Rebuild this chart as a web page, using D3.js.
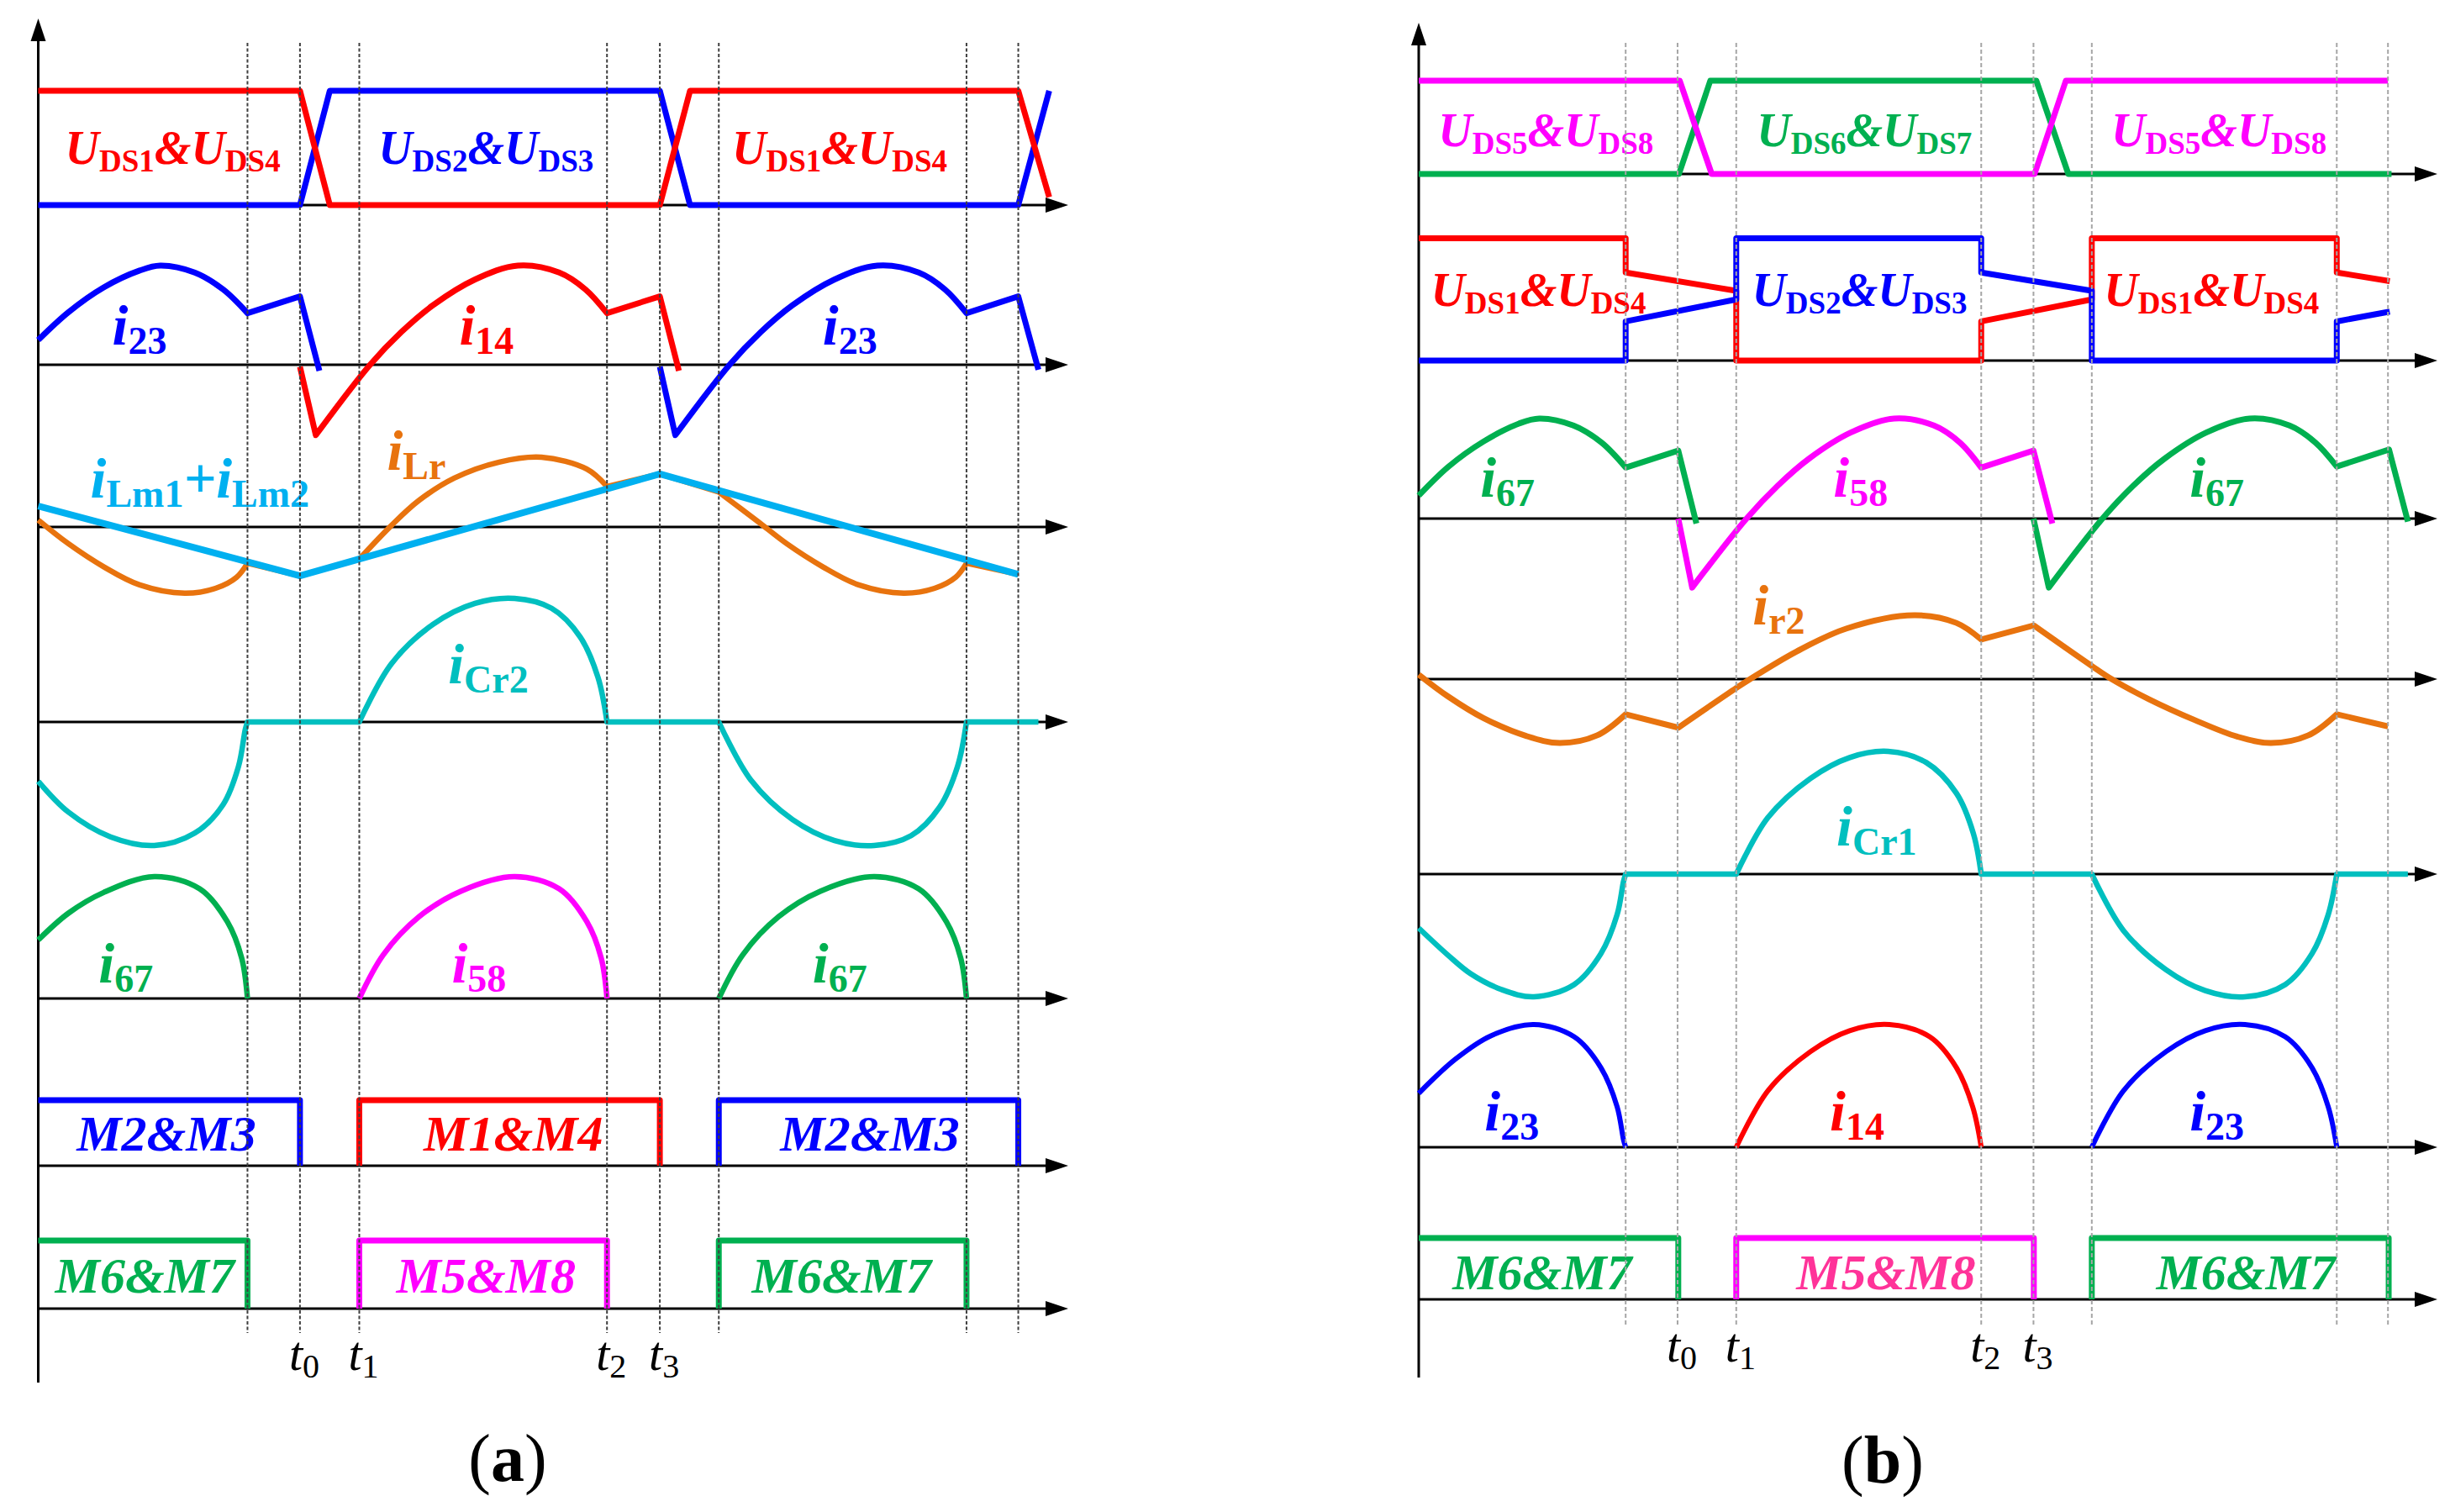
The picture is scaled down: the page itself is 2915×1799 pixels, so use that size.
<!DOCTYPE html>
<html><head><meta charset="utf-8">
<script src="https://cdn.jsdelivr.net/npm/d3@7"></script>
<style>html,body{margin:0;padding:0;background:#fff}svg{display:block}</style>
</head><body>
<svg id="chart" width="2915" height="1799"></svg>
<script>
// ================= DATA =================
// time axis (half switching period = 1 unit), dashed instants and their names
const tDomain = [-0.582, 2.283];
const markTimes = [0, 0.146, 0.311, 1, 1.147, 1.311, 2, 2.144];
const markNames = ['', 't_{0}', 't_{1}', 't_{2}', 't_{3}', '', '', ''];
const panelNames = ['(a)', '(b)'];

// ---- panel (a) waveforms: pieces of [kind, [[t, value p.u.], ...]]  (C = smooth, L = straight)
const aUds14 = [['L', [[-0.582,1],[0.146,1],[0.229,0],[1.147,0],[1.231,1],[2.144,1],[2.23,0.07]]]];
const aUds23 = [['L', [[-0.582,0],[0.146,0],[0.229,1],[1.147,1],[1.231,0],[2.144,0],[2.23,1]]]];
const aI23 = [
  ['C', [[-0.582,0.25],[-0.498,0.53],[-0.40,0.78],[-0.30,0.95],[-0.243,1.0],[-0.147,0.93],[-0.068,0.76],[0,0.52]]],
  ['L', [[0,0.52],[0.146,0.69],[0.20,-0.06]]],
  ['L', [[1.147,-0.02],[1.19,-0.71]]],
  ['C', [[1.19,-0.71],[1.341,0],[1.428,0.33],[1.516,0.60],[1.633,0.86],[1.752,1.0],[1.867,0.93],[1.94,0.76],[2.0,0.52]]],
  ['L', [[2.0,0.52],[2.144,0.69],[2.2,-0.05]]]
];
const aI14 = [
  ['L', [[0.146,-0.02],[0.19,-0.71]]],
  ['C', [[0.19,-0.71],[0.341,0],[0.428,0.33],[0.516,0.60],[0.633,0.86],[0.752,1.0],[0.867,0.93],[0.94,0.76],[1.0,0.52]]],
  ['L', [[1.0,0.52],[1.147,0.69],[1.2,-0.06]]]
];
const aLm = [['L', [[-0.582,0.30],[0.146,-0.70],[1.147,0.76],[2.144,-0.68]]]];
const aLr = [
  ['C', [[-0.582,0.10],[-0.498,-0.24],[-0.40,-0.57],[-0.30,-0.83],[-0.175,-0.95],[-0.089,-0.88],[-0.03,-0.72],[0,-0.52]]],
  ['L', [[0,-0.52],[0.146,-0.70],[0.311,-0.46]]],
  ['C', [[0.311,-0.46],[0.40,0.02],[0.477,0.38],[0.575,0.70],[0.70,0.93],[0.818,1.0],[0.944,0.83],[1.0,0.58]]],
  ['L', [[1.0,0.58],[1.147,0.76],[1.311,0.50]]],
  ['C', [[1.311,0.50],[1.417,0.09],[1.50,-0.24],[1.60,-0.57],[1.70,-0.83],[1.825,-0.95],[1.911,-0.88],[1.97,-0.72],[2.0,-0.52]]],
  ['L', [[2.0,-0.52],[2.144,-0.68]]]
];
const aCr2 = [
  ['C', [[-0.582,-0.48],[-0.498,-0.73],[-0.381,-0.93],[-0.259,-1.0],[-0.147,-0.90],[-0.068,-0.67],[-0.025,-0.36],[-0.006,-0.06],[0,0]]],
  ['L', [[0,0],[0.311,0]]],
  ['C', [[0.311,0],[0.40,0.47],[0.516,0.79],[0.633,0.96],[0.743,1.0],[0.846,0.92],[0.925,0.69],[0.975,0.36],[1.0,0]]],
  ['L', [[1.0,0],[1.311,0]]],
  ['C', [[1.311,0],[1.40,-0.47],[1.516,-0.79],[1.633,-0.96],[1.743,-1.0],[1.846,-0.92],[1.925,-0.69],[1.975,-0.36],[2.0,0]]],
  ['L', [[2.0,0],[2.2,0]]]
];
const aI67 = [
  ['C', [[-0.582,0.48],[-0.498,0.70],[-0.40,0.87],[-0.259,1.0],[-0.133,0.90],[-0.056,0.63],[-0.016,0.33],[0,0]]],
  ['C', [[1.311,0],[1.378,0.36],[1.477,0.67],[1.593,0.88],[1.743,1.0],[1.867,0.90],[1.944,0.63],[1.984,0.33],[2.0,0]]]
];
const aI58 = [['C', [[0.311,0],[0.378,0.36],[0.477,0.67],[0.593,0.88],[0.743,1.0],[0.867,0.90],[0.944,0.63],[0.984,0.33],[1.0,0]]]];
const aM23 = [['L', [[-0.582,1],[0.146,1],[0.146,0]]], ['L', [[1.311,0],[1.311,1],[2.144,1],[2.144,0]]]];
const aM14 = [['L', [[0.311,0],[0.311,1],[1.147,1],[1.147,0]]]];
const aM67 = [['L', [[-0.582,1],[0,1],[0,0]]], ['L', [[1.311,0],[1.311,1],[2,1],[2,0]]]];
const aM58 = [['L', [[0.311,0],[0.311,1],[1,1],[1,0]]]];

// ---- panel (b) waveforms
const bUds58 = [['L', [[-0.582,1],[0.152,1],[0.242,0],[1.15,0],[1.238,1],[2.144,1]]]];
const bUds67 = [['L', [[-0.582,0],[0.15,0],[0.238,1],[1.155,1],[1.245,0],[2.154,0]]]];
const bUds14 = [['L', [[-0.582,1],[0,1],[0,0.72],[0.311,0.57],[0.311,0],[1,0],[1,0.32],[1.311,0.50],[1.311,1],[2,1],[2,0.72],[2.149,0.65]]]];
const bUds23 = [['L', [[-0.582,0],[0,0],[0,0.32],[0.311,0.50],[0.311,1],[1,1],[1,0.72],[1.311,0.57],[1.311,0],[2,0],[2,0.32],[2.149,0.40]]]];
const bI67 = [
  ['C', [[-0.582,0.23],[-0.498,0.52],[-0.40,0.77],[-0.30,0.95],[-0.243,1.0],[-0.147,0.93],[-0.068,0.76],[0,0.51]]],
  ['L', [[0,0.51],[0.148,0.68],[0.199,-0.05]]],
  ['L', [[1.147,0],[1.19,-0.69]]],
  ['C', [[1.19,-0.69],[1.341,0],[1.428,0.33],[1.516,0.60],[1.633,0.86],[1.755,1.0],[1.867,0.93],[1.94,0.76],[2.0,0.52]]],
  ['L', [[2.0,0.52],[2.147,0.69],[2.2,-0.03]]]
];
const bI58 = [
  ['L', [[0.148,0],[0.187,-0.69]]],
  ['C', [[0.187,-0.69],[0.34,0],[0.428,0.33],[0.516,0.60],[0.633,0.86],[0.755,1.0],[0.867,0.93],[0.94,0.76],[1.0,0.51]]],
  ['L', [[1.0,0.51],[1.147,0.68],[1.2,-0.05]]]
];
const bIr2 = [
  ['C', [[-0.582,0.07],[-0.50,-0.27],[-0.40,-0.61],[-0.28,-0.89],[-0.185,-1.0],[-0.08,-0.88],[0,-0.55]]],
  ['L', [[0,-0.55],[0.148,-0.76]]],
  ['C', [[0.148,-0.76],[0.311,-0.14],[0.35,0],[0.48,0.43],[0.62,0.79],[0.812,1.0],[0.93,0.88],[1.0,0.62]]],
  ['L', [[1.0,0.62],[1.148,0.84]]],
  ['C', [[1.148,0.84],[1.31,0.21],[1.367,0],[1.47,-0.31],[1.60,-0.64],[1.72,-0.90],[1.815,-1.0],[1.92,-0.88],[2.0,-0.55]]],
  ['L', [[2.0,-0.55],[2.144,-0.74]]]
];
const bCr1 = [
  ['C', [[-0.582,-0.44],[-0.50,-0.66],[-0.437,-0.81],[-0.35,-0.94],[-0.258,-1.0],[-0.145,-0.90],[-0.07,-0.65],[-0.024,-0.33],[-0.006,-0.06],[0,0]]],
  ['L', [[0,0],[0.311,0]]],
  ['C', [[0.311,0],[0.40,0.46],[0.52,0.78],[0.63,0.95],[0.738,1.0],[0.845,0.91],[0.93,0.66],[0.978,0.33],[1.0,0]]],
  ['L', [[1,0],[1.311,0]]],
  ['C', [[1.311,0],[1.40,-0.46],[1.52,-0.78],[1.63,-0.95],[1.742,-1.0],[1.855,-0.90],[1.93,-0.65],[1.976,-0.33],[2.0,0]]],
  ['L', [[2,0],[2.2,0]]]
];
const bI23 = [
  ['C', [[-0.582,0.44],[-0.478,0.72],[-0.378,0.91],[-0.258,1.0],[-0.145,0.90],[-0.07,0.65],[-0.024,0.33],[-0.006,0.06],[0,0]]],
  ['C', [[1.311,0],[1.40,0.46],[1.52,0.78],[1.63,0.95],[1.742,1.0],[1.855,0.90],[1.93,0.65],[1.976,0.33],[2.0,0]]]
];
const bI14 = [['C', [[0.311,0],[0.40,0.46],[0.52,0.78],[0.63,0.95],[0.742,1.0],[0.855,0.90],[0.93,0.65],[0.976,0.33],[1.0,0]]]];
const bM67 = [['L', [[-0.582,1],[0.148,1],[0.148,0]]], ['L', [[1.311,0],[1.311,1],[2.146,1],[2.146,0]]]];
const bM58 = [['L', [[0.311,0],[0.311,1],[1.148,1],[1.148,0]]]];

// ---- label texts (markup: _{...} = subscript)
const aLabelTexts = ['U_{DS1}&U_{DS4}','U_{DS2}&U_{DS3}','U_{DS1}&U_{DS4}','i_{23}','i_{14}','i_{23}',
  'i_{Lm1}+i_{Lm2}','i_{Lr}','i_{Cr2}','i_{67}','i_{58}','i_{67}','M2&M3','M1&M4','M2&M3','M6&M7','M5&M8','M6&M7'];
const bLabelTexts = ['U_{DS5}&U_{DS8}','U_{DS6}&U_{DS7}','U_{DS5}&U_{DS8}','U_{DS1}&U_{DS4}','U_{DS2}&U_{DS3}','U_{DS1}&U_{DS4}',
  'i_{67}','i_{58}','i_{67}','i_{r2}','i_{Cr1}','i_{23}','i_{14}','i_{23}','M6&M7','M5&M8','M6&M7'];

// ================= LAYOUT & STYLE =================
const C = {red:'#FF0000', blue:'#0000FF', mag:'#FF00FF', green:'#00B050', orange:'#E8730E',
           lblue:'#00B0F0', teal:'#00BFBF', pink:'#FF3399'};
const FONT = "'Liberation Serif','Times New Roman',Times,serif";
const panels = [
  {x0:45.5, x1:1271, yTop:22, yBot:1645, dashTop:51, dashBot:1586, dashColor:'#404040', dashArr:'4,2.5',
   tY:1630, tOff:-13, nameX:604, nameY:1762,
   strips:[[244,136],[434,118],[627,83],[859,147],[1188,145],[1387,78],[1557,81]]},
  {x0:1688, x1:2900, yTop:27, yBot:1639, dashTop:51, dashBot:1576, dashColor:'#A6A6A6', dashArr:'5,3',
   tY:1620, tOff:-13, nameX:2240, nameY:1764,
   strips:[[207,111],[429,145.5],[617,119],[808,76],[1040,146],[1365,146],[1546,73]]}
];
const series = [
  [0,0,aUds23,C.blue,7],[0,0,aUds14,C.red,7],
  [0,1,aI23,C.blue,7],[0,1,aI14,C.red,7],
  [0,2,aLr,C.orange,6.5],[0,2,aLm,C.lblue,8],
  [0,3,aCr2,C.teal,6.5],
  [0,4,aI67,C.green,6.5],[0,4,aI58,C.mag,6.5],
  [0,5,aM23,C.blue,7],[0,5,aM14,C.red,7],
  [0,6,aM67,C.green,7],[0,6,aM58,C.mag,7],
  [1,0,bUds67,C.green,7],[1,0,bUds58,C.mag,7],
  [1,1,bUds14,C.red,7],[1,1,bUds23,C.blue,7],
  [1,2,bI67,C.green,7],[1,2,bI58,C.mag,7],
  [1,3,bIr2,C.orange,7],
  [1,4,bCr1,C.teal,6.5],
  [1,5,bI23,C.blue,6],[1,5,bI14,C.red,6],
  [1,6,bM67,C.green,7],[1,6,bM58,C.mag,7]
];
// label placement: [strip, t, value, kind, color]
const aLabelPos = [
  [0,-0.507,0.36,'uds',C.red],[0,0.364,0.36,'uds',C.blue],[0,1.348,0.36,'uds',C.red],
  [1,-0.376,0.20,'cur',C.blue],[1,0.589,0.20,'cur',C.red],[1,1.60,0.20,'cur',C.blue],
  [2,-0.437,0.42,'cur',C.lblue],[2,0.388,0.82,'cur',C.orange],
  [3,0.558,0.31,'cur',C.teal],
  [4,-0.414,0.13,'cur',C.green],[4,0.568,0.13,'cur',C.mag],[4,1.572,0.13,'cur',C.green],
  [5,-0.475,0.23,'gate',C.blue],[5,0.49,0.23,'gate',C.red],[5,1.482,0.23,'gate',C.blue],
  [6,-0.535,0.235,'gate',C.green],[6,0.414,0.235,'gate',C.mag],[6,1.403,0.235,'gate',C.green]
];
const bLabelPos = [
  [0,-0.527,0.30,'uds',C.mag],[0,0.369,0.30,'uds',C.green],[0,1.366,0.30,'uds',C.mag],
  [1,-0.548,0.45,'uds',C.red],[1,0.355,0.45,'uds',C.blue],[1,1.345,0.45,'uds',C.red],
  [2,-0.409,0.22,'cur',C.green],[2,0.584,0.22,'cur',C.mag],[2,1.586,0.22,'cur',C.green],
  [3,0.357,0.855,'cur',C.orange],
  [4,0.593,0.233,'cur',C.teal],
  [5,-0.397,0.137,'cur',C.blue],[5,0.574,0.137,'cur',C.red],[5,1.586,0.137,'cur',C.blue],
  [6,-0.487,0.164,'gate',C.green],[6,0.48,0.164,'gate',C.pink],[6,1.492,0.164,'gate',C.green]
];
const textStyles = {
  uds:  {main:56, sub:37, dy:9,  weight:'bold',   mainStyle:'italic'},
  cur:  {main:68, sub:46, dy:11, weight:'bold',   mainStyle:'italic'},
  gate: {main:60, sub:40, dy:9,  weight:'bold',   mainStyle:'italic'},
  time: {main:58, sub:40, dy:9,  weight:'normal', mainStyle:'italic'}
};

// ================= DRAW =================
const svg = d3.select('#chart');
svg.append('rect').attr('width',2915).attr('height',1799).attr('fill','#fff');

function richText(g, x, y, str, st, color, anchor) {
  const t = g.append('text').attr('x', x).attr('y', y).attr('fill', color)
    .attr('font-family', FONT).attr('text-anchor', anchor || 'start');
  str.split(/(_\{[^}]*\})/).filter(s => s.length).forEach(tok => {
    const isSub = tok.startsWith('_{');
    t.append('tspan').attr('y', isSub ? y + st.dy : y)
      .attr('font-size', isSub ? st.sub : st.main)
      .attr('font-weight', st.weight)
      .attr('font-style', isSub ? 'normal' : st.mainStyle)
      .text(isSub ? tok.slice(2, -1) : tok);
  });
  return t;
}

const AL = 27, AH = 9;
panels.forEach((P, pi) => {
  const g = svg.append('g');
  const x = d3.scaleLinear().domain(tDomain).range([P.x0, P.x1]);
  P.x = x;
  P.ys = P.strips.map(([base, amp]) => d3.scaleLinear().domain([0, 1]).range([base, base - amp]));

  g.append('line').attr('x1', P.x0).attr('x2', P.x0).attr('y1', P.yBot).attr('y2', P.yTop + AL - 2)
    .attr('stroke', '#000').attr('stroke-width', 3);
  g.append('path').attr('d', d3.line()([[P.x0, P.yTop], [P.x0 - AH, P.yTop + AL], [P.x0 + AH, P.yTop + AL]]) + 'Z')
    .attr('fill', '#000');
  P.ys.forEach(y => {
    const y0 = y(0);
    g.append('line').attr('x1', P.x0).attr('x2', P.x1 - AL + 2).attr('y1', y0).attr('y2', y0)
      .attr('stroke', '#000').attr('stroke-width', 3);
    g.append('path').attr('d', d3.line()([[P.x1, y0], [P.x1 - AL, y0 - AH], [P.x1 - AL, y0 + AH]]) + 'Z')
      .attr('fill', '#000');
  });
  P.g = g;
});

function buildPath(pieces, x, y) {
  let d = '', last = null;
  pieces.forEach(([kind, pts]) => {
    const gen = d3.line().x(p => x(p[0])).y(p => y(p[1]))
      .curve(kind === 'C' ? d3.curveCatmullRom.alpha(0.5) : d3.curveLinear);
    let s = gen(pts);
    const first = pts[0];
    if (last && Math.abs(last[0] - first[0]) < 1e-9 && Math.abs(last[1] - first[1]) < 1e-9) {
      s = 'L' + s.slice(1);
    }
    d += s;
    last = pts[pts.length - 1];
  });
  return d;
}
series.forEach(([pi, si, data, color, w]) => {
  const P = panels[pi];
  P.g.append('path').attr('d', buildPath(data, P.x, P.ys[si]))
    .attr('fill', 'none').attr('stroke', color).attr('stroke-width', w)
    .attr('stroke-linejoin', 'round').attr('stroke-linecap', 'butt');
});

[[0, aLabelTexts, aLabelPos], [1, bLabelTexts, bLabelPos]].forEach(([pi, texts, pos]) => {
  const P = panels[pi];
  texts.forEach((txt, i) => {
    const [si, t, v, kind, color] = pos[i];
    richText(P.g, P.x(t), P.ys[si](v), txt, textStyles[kind], color);
  });
});

panels.forEach((P, pi) => {
  markTimes.forEach((t, i) => {
    P.g.append('line').attr('x1', P.x(t)).attr('x2', P.x(t)).attr('y1', P.dashTop).attr('y2', P.dashBot)
      .attr('stroke', P.dashColor).attr('stroke-width', 2).attr('stroke-dasharray', P.dashArr);
    if (markNames[i]) richText(P.g, P.x(t) + P.tOff, P.tY, markNames[i], textStyles.time, '#000');
  });
  const nm = panelNames[pi];
  const tx = P.g.append('text').attr('x', P.nameX).attr('y', P.nameY).attr('text-anchor', 'middle')
    .attr('font-family', FONT).attr('font-size', 80).attr('fill', '#000');
  tx.append('tspan').text(nm[0]);
  tx.append('tspan').attr('font-weight', 'bold').text(nm.slice(1, -1));
  tx.append('tspan').text(nm.slice(-1));
});
</script>
</body></html>
